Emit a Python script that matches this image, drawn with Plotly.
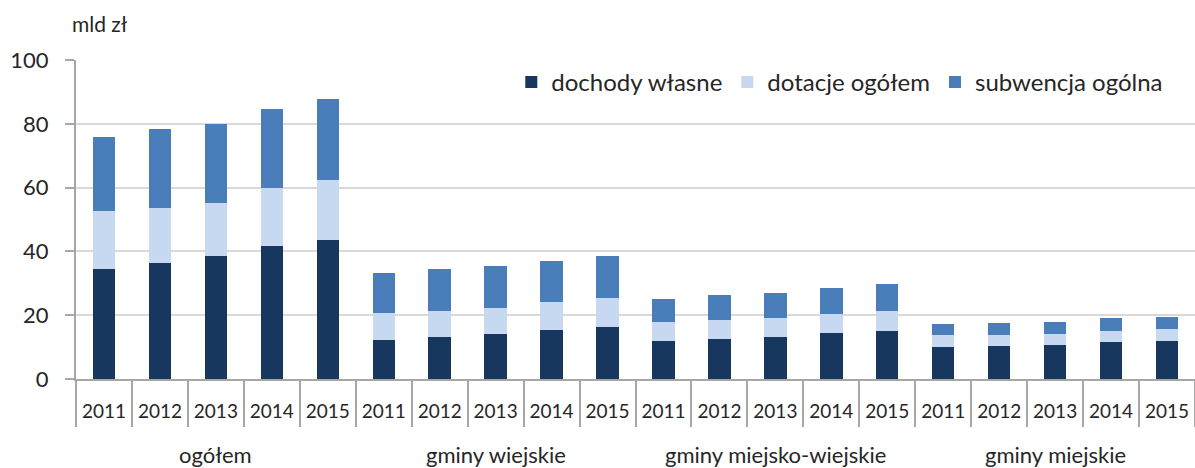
import plotly.graph_objects as go

groups = ["ogółem", "gminy wiejskie", "gminy miejsko-wiejskie", "gminy miejskie"]
years = ["2011", "2012", "2013", "2014", "2015"]

dochody_wlasne = [34.4, 36.4, 38.6, 41.6, 43.6,
                  12.2, 13.2, 14.1, 15.4, 16.3,
                  11.9, 12.6, 13.3, 14.4, 15.2,
                  10.0, 10.4, 10.7, 11.5, 11.8]
dotacje_ogolem = [18.2, 17.3, 16.6, 18.3, 18.7,
                  8.6, 8.1, 8.1, 8.6, 9.0,
                  5.9, 6.0, 5.7, 6.1, 6.2,
                  3.9, 3.5, 3.4, 3.7, 3.8]
subwencja_ogolna = [23.3, 24.7, 24.8, 24.7, 25.5,
                    12.4, 13.2, 13.2, 13.0, 13.2,
                    7.4, 7.7, 7.9, 7.9, 8.3,
                    3.3, 3.6, 3.7, 3.8, 3.8]

series_names = ["dochody własne", "dotacje ogółem", "subwencja ogólna"]
colors = ["#17375E", "#C6D9F1", "#4A7EBB"]

n_years = len(years)
x_pos = list(range(len(groups) * n_years))
tick_text = [y for _ in groups for y in years]

fig = go.Figure()
for name, vals, col in zip(series_names, [dochody_wlasne, dotacje_ogolem, subwencja_ogolna], colors):
    fig.add_trace(go.Bar(
        x=x_pos, y=vals, name=name,
        marker=dict(color=col, line=dict(width=0)),
        width=0.4,
    ))

axis_col = "#A6A6A6"
font_family = "Lato, 'Open Sans', sans-serif"
fig.update_layout(
    barmode="stack",
    width=1195, height=468,
    margin=dict(l=76, r=0, t=60, b=89, autoexpand=False),
    paper_bgcolor="white", plot_bgcolor="white",
    font=dict(family=font_family, size=19, color="#262626"),
    showlegend=True,
    legend=dict(orientation="h", x=0.389, xanchor="left", y=1.0, yanchor="top",
                font=dict(size=24, color="#262626"), bgcolor="rgba(0,0,0,0)",
                traceorder="normal"),
)
fig.update_yaxes(
    range=[0, 100], tickvals=[0, 20, 40, 60, 80, 100],
    showgrid=True, gridcolor="#D9D9D9", gridwidth=2,
    showline=True, linecolor=axis_col, linewidth=2,
    ticks="outside", ticklen=9, tickcolor=axis_col, tickwidth=2,
    tickfont=dict(size=22, color="#262626"),
    ticklabelstandoff=12,
    zeroline=False, automargin=False,
)
fig.update_xaxes(
    range=[-0.5, len(x_pos) - 0.5],
    tickmode="array", tickvals=x_pos, ticktext=tick_text,
    ticks="", showgrid=False, zeroline=False,
    showline=True, linecolor=axis_col, linewidth=2,
    tickfont=dict(size=19, color="#262626"),
    ticklabelstandoff=14,
    minor=dict(ticks="outside", tick0=0.5, dtick=1, ticklen=46,
               tickcolor=axis_col, tickwidth=2, showgrid=False),
    automargin=False,
)

# group dividers (long lines at group boundaries) and group labels
for i in range(len(groups) + 1):
    bx = i * n_years - 0.5
    fig.add_shape(type="line", xref="x", yref="y", x0=bx, x1=bx, y0=0, y1=-28,
                  line=dict(color=axis_col, width=2), layer="above")
for i, g in enumerate(groups):
    cx = i * n_years + (n_years - 1) / 2
    fig.add_annotation(text=g, xref="x", yref="paper", x=cx, y=0, yanchor="middle",
                       yshift=-75, showarrow=False, font=dict(size=22, color="#262626"))

fig.add_annotation(text="mld zł", xref="paper", yref="paper", x=-0.0054, y=1.0,
                   xanchor="left", yanchor="bottom", yshift=22, showarrow=False,
                   font=dict(size=21, color="#262626"))

fig.write_html("out.html", config={"displayModeBar": False},
               post_script="document.body.style.margin='0';document.body.style.padding='0';")
